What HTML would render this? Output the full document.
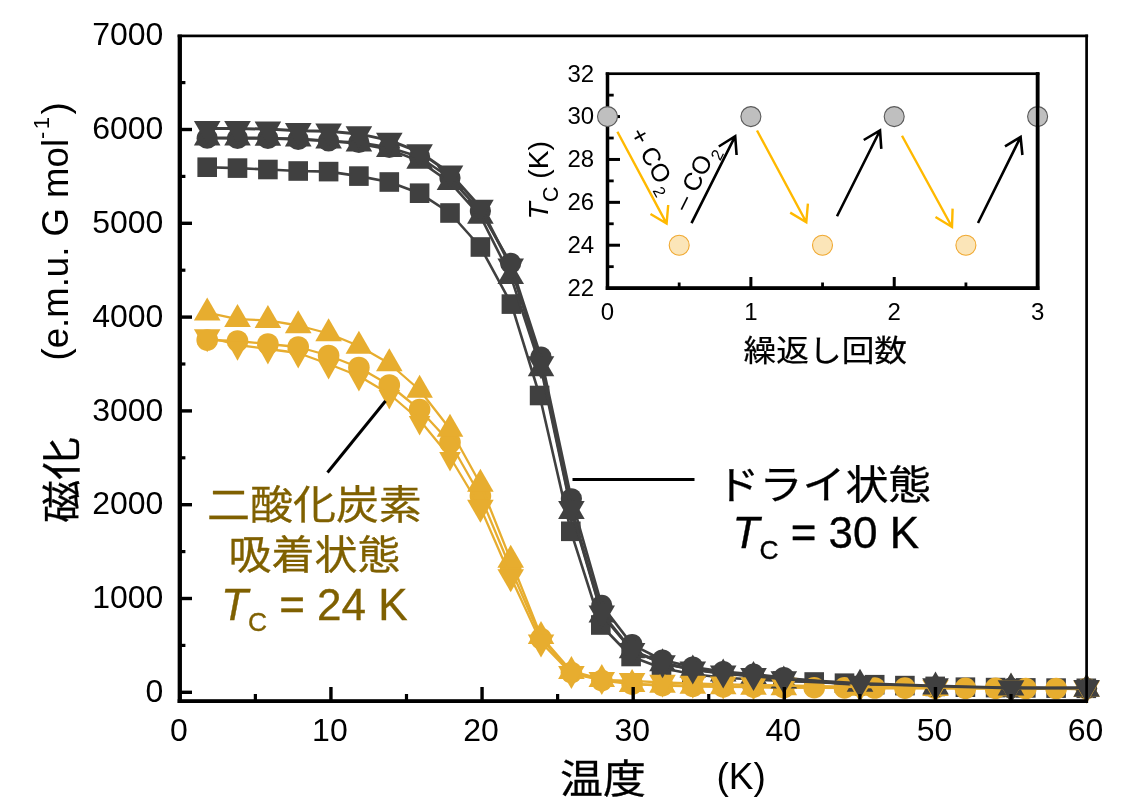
<!DOCTYPE html>
<html lang="ja"><head><meta charset="utf-8"><title>磁化 温度</title>
<style>
html,body{margin:0;padding:0;background:#fff;}
body{width:1134px;height:808px;overflow:hidden;}
svg{display:block;}
text{font-family:"Liberation Sans","Noto Sans CJK JP",sans-serif;fill:#000;}
.tk{font-size:32px;}
.itk{font-size:24px;}
.co{font-size:25px;}
.itl{font-size:28.3px;}
.ixl{font-size:32.7px;stroke:#000;stroke-width:0.25px;}
.cj{font-size:43px;stroke-width:0.3px;}
.an{font-size:44px;stroke-width:0.35px;}
.ax{font-size:37px;}
g[fill] text{fill:inherit;}
</style></head>
<body>
<svg width="1134" height="808" viewBox="0 0 1134 808">
<rect width="1134" height="808" fill="#fff"/>
<g id="s1-dark-square"><polyline points="207.2,167.2 237.5,168.1 267.9,169.5 298.2,171.0 328.6,171.6 358.9,176.1 389.3,182.0 419.6,193.2 450.0,213.0 480.4,247.0 511.4,304.1 539.6,395.5 570.8,531.2 600.8,625.0 631.1,656.5 661.5,668.0 691.8,674.0 722.2,677.5 752.5,679.5 782.8,681.0 814.2,682.0 844.5,683.2 874.7,684.7 904.9,685.6 935.1,686.4 965.4,687.2 995.6,687.6 1025.8,687.9 1056.1,688.1 1086.3,688.3" fill="none" stroke="#404040" stroke-width="2.6" stroke-linejoin="round"/><rect x="197.4" y="157.4" width="19.6" height="19.6" fill="#404040"/><rect x="227.7" y="158.3" width="19.6" height="19.6" fill="#404040"/><rect x="258.1" y="159.7" width="19.6" height="19.6" fill="#404040"/><rect x="288.4" y="161.2" width="19.6" height="19.6" fill="#404040"/><rect x="318.8" y="161.8" width="19.6" height="19.6" fill="#404040"/><rect x="349.1" y="166.3" width="19.6" height="19.6" fill="#404040"/><rect x="379.5" y="172.2" width="19.6" height="19.6" fill="#404040"/><rect x="409.8" y="183.4" width="19.6" height="19.6" fill="#404040"/><rect x="440.2" y="203.2" width="19.6" height="19.6" fill="#404040"/><rect x="470.6" y="237.2" width="19.6" height="19.6" fill="#404040"/><rect x="501.6" y="294.3" width="19.6" height="19.6" fill="#404040"/><rect x="529.8" y="385.7" width="19.6" height="19.6" fill="#404040"/><rect x="561.0" y="521.5" width="19.6" height="19.6" fill="#404040"/><rect x="591.0" y="615.2" width="19.6" height="19.6" fill="#404040"/><rect x="621.3" y="646.7" width="19.6" height="19.6" fill="#404040"/><rect x="651.7" y="658.2" width="19.6" height="19.6" fill="#404040"/><rect x="682.0" y="664.2" width="19.6" height="19.6" fill="#404040"/><rect x="712.4" y="667.7" width="19.6" height="19.6" fill="#404040"/><rect x="742.7" y="669.7" width="19.6" height="19.6" fill="#404040"/><rect x="773.0" y="671.2" width="19.6" height="19.6" fill="#404040"/><rect x="804.4" y="672.2" width="19.6" height="19.6" fill="#404040"/><rect x="834.7" y="673.4" width="19.6" height="19.6" fill="#404040"/><rect x="864.9" y="674.9" width="19.6" height="19.6" fill="#404040"/><rect x="895.1" y="675.8" width="19.6" height="19.6" fill="#404040"/><rect x="925.4" y="676.6" width="19.6" height="19.6" fill="#404040"/><rect x="955.6" y="677.4" width="19.6" height="19.6" fill="#404040"/><rect x="985.8" y="677.8" width="19.6" height="19.6" fill="#404040"/><rect x="1016.0" y="678.1" width="19.6" height="19.6" fill="#404040"/><rect x="1046.3" y="678.3" width="19.6" height="19.6" fill="#404040"/><rect x="1076.5" y="678.5" width="19.6" height="19.6" fill="#404040"/></g>
<g id="s2-yellow-circle"><polyline points="207.2,340.0 237.5,341.0 267.9,344.0 298.2,347.0 328.6,355.5 358.9,367.5 389.3,385.0 419.6,409.5 450.0,442.5 480.4,496.0 510.7,568.5 541.0,638.5 571.4,672.5 601.8,680.5 632.1,684.0 662.5,685.5 692.8,686.3 723.2,686.8 753.5,687.2 783.8,687.5 814.2,687.7 844.5,687.9 874.7,688.0 904.9,688.1 935.1,688.2 965.4,688.3 995.6,688.4 1025.8,688.5 1056.1,688.5 1086.3,688.5" fill="none" stroke="#E7AD2F" stroke-width="2.3" stroke-linejoin="round"/><circle cx="207.2" cy="340.0" r="10.8" fill="#E7AD2F"/><circle cx="237.5" cy="341.0" r="10.8" fill="#E7AD2F"/><circle cx="267.9" cy="344.0" r="10.8" fill="#E7AD2F"/><circle cx="298.2" cy="347.0" r="10.8" fill="#E7AD2F"/><circle cx="328.6" cy="355.5" r="10.8" fill="#E7AD2F"/><circle cx="358.9" cy="367.5" r="10.8" fill="#E7AD2F"/><circle cx="389.3" cy="385.0" r="10.8" fill="#E7AD2F"/><circle cx="419.6" cy="409.5" r="10.8" fill="#E7AD2F"/><circle cx="450.0" cy="442.5" r="10.8" fill="#E7AD2F"/><circle cx="480.4" cy="496.0" r="10.8" fill="#E7AD2F"/><circle cx="510.7" cy="568.5" r="10.8" fill="#E7AD2F"/><circle cx="541.0" cy="638.5" r="10.8" fill="#E7AD2F"/><circle cx="571.4" cy="672.5" r="10.8" fill="#E7AD2F"/><circle cx="601.8" cy="680.5" r="10.8" fill="#E7AD2F"/><circle cx="632.1" cy="684.0" r="10.8" fill="#E7AD2F"/><circle cx="662.5" cy="685.5" r="10.8" fill="#E7AD2F"/><circle cx="692.8" cy="686.3" r="10.8" fill="#E7AD2F"/><circle cx="723.2" cy="686.8" r="10.8" fill="#E7AD2F"/><circle cx="753.5" cy="687.2" r="10.8" fill="#E7AD2F"/><circle cx="783.8" cy="687.5" r="10.8" fill="#E7AD2F"/><circle cx="814.2" cy="687.7" r="10.8" fill="#E7AD2F"/><circle cx="844.5" cy="687.9" r="10.8" fill="#E7AD2F"/><circle cx="874.7" cy="688.0" r="10.8" fill="#E7AD2F"/><circle cx="904.9" cy="688.1" r="10.8" fill="#E7AD2F"/><circle cx="935.1" cy="688.2" r="10.8" fill="#E7AD2F"/><circle cx="965.4" cy="688.3" r="10.8" fill="#E7AD2F"/><circle cx="995.6" cy="688.4" r="10.8" fill="#E7AD2F"/><circle cx="1025.8" cy="688.5" r="10.8" fill="#E7AD2F"/><circle cx="1056.1" cy="688.5" r="10.8" fill="#E7AD2F"/><circle cx="1086.3" cy="688.5" r="10.8" fill="#E7AD2F"/></g>
<g id="s3-dark-circle"><polyline points="207.2,138.2 237.5,138.4 267.9,138.5 298.2,139.4 328.6,141.0 358.9,142.5 389.3,147.4 419.6,157.0 450.0,178.0 480.4,211.0 510.7,263.3 541.0,357.0 571.4,498.8 601.8,605.4 632.1,644.6 662.5,660.0 692.8,667.0 723.2,671.5 753.5,674.2 783.8,677.5 860.0,686.0 935.5,687.0 1011.0,688.0 1086.6,688.5" fill="none" stroke="#404040" stroke-width="2.6" stroke-linejoin="round"/><circle cx="207.2" cy="138.2" r="10.6" fill="#404040"/><circle cx="237.5" cy="138.4" r="10.6" fill="#404040"/><circle cx="267.9" cy="138.5" r="10.6" fill="#404040"/><circle cx="298.2" cy="139.4" r="10.6" fill="#404040"/><circle cx="328.6" cy="141.0" r="10.6" fill="#404040"/><circle cx="358.9" cy="142.5" r="10.6" fill="#404040"/><circle cx="389.3" cy="147.4" r="10.6" fill="#404040"/><circle cx="419.6" cy="157.0" r="10.6" fill="#404040"/><circle cx="450.0" cy="178.0" r="10.6" fill="#404040"/><circle cx="480.4" cy="211.0" r="10.6" fill="#404040"/><circle cx="510.7" cy="263.3" r="10.6" fill="#404040"/><circle cx="541.0" cy="357.0" r="10.6" fill="#404040"/><circle cx="571.4" cy="498.8" r="10.6" fill="#404040"/><circle cx="601.8" cy="605.4" r="10.6" fill="#404040"/><circle cx="632.1" cy="644.6" r="10.6" fill="#404040"/><circle cx="662.5" cy="660.0" r="10.6" fill="#404040"/><circle cx="692.8" cy="667.0" r="10.6" fill="#404040"/><circle cx="723.2" cy="671.5" r="10.6" fill="#404040"/><circle cx="753.5" cy="674.2" r="10.6" fill="#404040"/><circle cx="783.8" cy="677.5" r="10.6" fill="#404040"/><circle cx="860.0" cy="686.0" r="10.6" fill="#404040"/><circle cx="935.5" cy="687.0" r="10.6" fill="#404040"/><circle cx="1011.0" cy="688.0" r="10.6" fill="#404040"/><circle cx="1086.6" cy="688.5" r="10.6" fill="#404040"/></g>
<g id="s4-yellow-up"><polyline points="207.2,312.7 237.5,319.2 267.9,320.4 298.2,325.5 328.6,333.5 358.9,346.0 389.3,363.5 419.6,390.0 450.0,429.0 480.4,484.0 510.7,560.0 541.0,636.2 571.4,671.2 601.8,679.2 632.1,684.2 662.5,685.0 692.8,686.0 723.2,686.5 753.5,687.0 783.8,687.5 860.0,688.0 935.5,688.3 1011.0,688.6 1086.6,689.0" fill="none" stroke="#E7AD2F" stroke-width="2.3" stroke-linejoin="round"/><polygon points="193.9,320.4 220.5,320.4 207.2,297.4" fill="#E7AD2F"/><polygon points="224.2,326.9 250.8,326.9 237.5,303.9" fill="#E7AD2F"/><polygon points="254.6,328.1 281.2,328.1 267.9,305.1" fill="#E7AD2F"/><polygon points="284.9,333.2 311.6,333.2 298.2,310.2" fill="#E7AD2F"/><polygon points="315.3,341.2 341.9,341.2 328.6,318.2" fill="#E7AD2F"/><polygon points="345.6,353.7 372.2,353.7 358.9,330.7" fill="#E7AD2F"/><polygon points="376.0,371.2 402.6,371.2 389.3,348.2" fill="#E7AD2F"/><polygon points="406.3,397.7 432.9,397.7 419.6,374.7" fill="#E7AD2F"/><polygon points="436.7,436.7 463.3,436.7 450.0,413.7" fill="#E7AD2F"/><polygon points="467.1,491.7 493.7,491.7 480.4,468.7" fill="#E7AD2F"/><polygon points="497.4,567.7 524.0,567.7 510.7,544.7" fill="#E7AD2F"/><polygon points="527.8,643.9 554.3,643.9 541.0,620.9" fill="#E7AD2F"/><polygon points="558.1,678.9 584.7,678.9 571.4,655.9" fill="#E7AD2F"/><polygon points="588.5,686.9 615.0,686.9 601.8,663.9" fill="#E7AD2F"/><polygon points="618.8,691.9 645.4,691.9 632.1,668.9" fill="#E7AD2F"/><polygon points="649.2,692.7 675.8,692.7 662.5,669.7" fill="#E7AD2F"/><polygon points="679.5,693.7 706.1,693.7 692.8,670.7" fill="#E7AD2F"/><polygon points="709.9,694.2 736.5,694.2 723.2,671.2" fill="#E7AD2F"/><polygon points="740.2,694.7 766.8,694.7 753.5,671.7" fill="#E7AD2F"/><polygon points="770.5,695.2 797.1,695.2 783.8,672.2" fill="#E7AD2F"/><polygon points="846.7,695.7 873.3,695.7 860.0,672.7" fill="#E7AD2F"/><polygon points="922.2,696.0 948.8,696.0 935.5,673.0" fill="#E7AD2F"/><polygon points="997.7,696.3 1024.3,696.3 1011.0,673.3" fill="#E7AD2F"/><polygon points="1073.3,696.7 1099.9,696.7 1086.6,673.7" fill="#E7AD2F"/></g>
<g id="s5-dark-up"><polyline points="207.2,137.7 237.5,137.7 267.9,138.0 298.2,138.9 328.6,140.9 358.9,143.7 389.3,149.4 419.6,161.2 450.0,182.4 480.4,216.2 510.7,276.2 541.0,368.6 571.4,511.2 601.8,614.9 632.1,650.5 662.5,663.5 692.8,669.8 723.2,673.7 753.5,676.3 783.8,680.8 860.0,684.1 935.5,686.7 1011.0,687.8 1086.6,689.0" fill="none" stroke="#404040" stroke-width="2.6" stroke-linejoin="round"/><polygon points="193.9,145.4 220.5,145.4 207.2,122.4" fill="#404040"/><polygon points="224.2,145.4 250.8,145.4 237.5,122.4" fill="#404040"/><polygon points="254.6,145.7 281.2,145.7 267.9,122.7" fill="#404040"/><polygon points="284.9,146.6 311.6,146.6 298.2,123.6" fill="#404040"/><polygon points="315.3,148.6 341.9,148.6 328.6,125.6" fill="#404040"/><polygon points="345.6,151.4 372.2,151.4 358.9,128.4" fill="#404040"/><polygon points="376.0,157.1 402.6,157.1 389.3,134.1" fill="#404040"/><polygon points="406.3,168.8 432.9,168.8 419.6,145.8" fill="#404040"/><polygon points="436.7,190.1 463.3,190.1 450.0,167.1" fill="#404040"/><polygon points="467.1,223.8 493.7,223.8 480.4,200.8" fill="#404040"/><polygon points="497.4,283.9 524.0,283.9 510.7,260.9" fill="#404040"/><polygon points="527.8,376.3 554.3,376.3 541.0,353.3" fill="#404040"/><polygon points="558.1,518.9 584.7,518.9 571.4,495.9" fill="#404040"/><polygon points="588.5,622.6 615.0,622.6 601.8,599.6" fill="#404040"/><polygon points="618.8,658.2 645.4,658.2 632.1,635.2" fill="#404040"/><polygon points="649.2,671.2 675.8,671.2 662.5,648.2" fill="#404040"/><polygon points="679.5,677.5 706.1,677.5 692.8,654.5" fill="#404040"/><polygon points="709.9,681.4 736.5,681.4 723.2,658.4" fill="#404040"/><polygon points="740.2,684.0 766.8,684.0 753.5,661.0" fill="#404040"/><polygon points="770.5,688.5 797.1,688.5 783.8,665.5" fill="#404040"/><polygon points="846.7,691.8 873.3,691.8 860.0,668.8" fill="#404040"/><polygon points="922.2,694.4 948.8,694.4 935.5,671.4" fill="#404040"/><polygon points="997.7,695.5 1024.3,695.5 1011.0,672.5" fill="#404040"/><polygon points="1073.3,696.7 1099.9,696.7 1086.6,673.7" fill="#404040"/></g>
<g id="s6-yellow-down"><polyline points="207.2,337.0 237.5,345.0 267.9,349.0 298.2,353.0 328.6,364.0 358.9,376.0 389.3,394.0 419.6,420.0 450.0,457.0 480.4,507.5 510.7,577.0 541.0,642.3 571.4,673.8 601.8,679.8 632.1,680.8 662.5,682.5 692.8,683.5 723.2,684.3 753.5,685.0 783.8,685.5 860.0,687.0 935.5,687.5 1011.0,688.0 1086.6,688.5" fill="none" stroke="#E7AD2F" stroke-width="2.3" stroke-linejoin="round"/><polygon points="193.9,329.3 220.5,329.3 207.2,352.3" fill="#E7AD2F"/><polygon points="226.7,341.3 248.3,341.3 237.5,360.7" fill="#E7AD2F"/><polygon points="257.1,345.1 278.7,345.1 267.9,364.5" fill="#E7AD2F"/><polygon points="287.4,349.1 309.1,349.1 298.2,368.5" fill="#E7AD2F"/><polygon points="317.8,360.1 339.4,360.1 328.6,379.5" fill="#E7AD2F"/><polygon points="348.1,372.1 369.8,372.1 358.9,391.5" fill="#E7AD2F"/><polygon points="378.5,390.1 400.1,390.1 389.3,409.5" fill="#E7AD2F"/><polygon points="408.8,416.1 430.4,416.1 419.6,435.5" fill="#E7AD2F"/><polygon points="439.2,452.1 460.8,452.1 450.0,471.5" fill="#E7AD2F"/><polygon points="467.1,499.8 493.7,499.8 480.4,522.8" fill="#E7AD2F"/><polygon points="497.4,569.3 524.0,569.3 510.7,592.3" fill="#E7AD2F"/><polygon points="527.8,634.6 554.3,634.6 541.0,657.6" fill="#E7AD2F"/><polygon points="558.1,666.1 584.7,666.1 571.4,689.1" fill="#E7AD2F"/><polygon points="588.5,672.1 615.0,672.1 601.8,695.1" fill="#E7AD2F"/><polygon points="618.8,673.1 645.4,673.1 632.1,696.1" fill="#E7AD2F"/><polygon points="649.2,674.8 675.8,674.8 662.5,697.8" fill="#E7AD2F"/><polygon points="679.5,675.8 706.1,675.8 692.8,698.8" fill="#E7AD2F"/><polygon points="709.9,676.6 736.5,676.6 723.2,699.6" fill="#E7AD2F"/><polygon points="740.2,677.3 766.8,677.3 753.5,700.3" fill="#E7AD2F"/><polygon points="770.5,677.8 797.1,677.8 783.8,700.8" fill="#E7AD2F"/><polygon points="846.7,679.3 873.3,679.3 860.0,702.3" fill="#E7AD2F"/><polygon points="922.2,679.8 948.8,679.8 935.5,702.8" fill="#E7AD2F"/><polygon points="997.7,680.3 1024.3,680.3 1011.0,703.3" fill="#E7AD2F"/><polygon points="1073.3,680.8 1099.9,680.8 1086.6,703.8" fill="#E7AD2F"/></g>
<g id="s7-dark-down"><polyline points="207.2,128.6 237.5,128.6 267.9,129.1 298.2,130.7 328.6,131.2 358.9,133.9 389.3,140.4 419.6,152.0 450.0,173.2 480.4,207.3 510.7,266.1 541.0,363.9 571.4,508.6 601.8,613.2 632.1,650.7 662.5,663.0 692.8,669.3 723.2,673.2 753.5,675.8 783.8,679.0 860.0,683.4 935.5,686.0 1011.0,688.0 1086.6,687.8" fill="none" stroke="#404040" stroke-width="3.0" stroke-linejoin="round"/><polygon points="193.9,120.9 220.5,120.9 207.2,143.9" fill="#404040"/><polygon points="224.2,120.9 250.8,120.9 237.5,143.9" fill="#404040"/><polygon points="254.6,121.4 281.2,121.4 267.9,144.4" fill="#404040"/><polygon points="284.9,123.0 311.6,123.0 298.2,146.0" fill="#404040"/><polygon points="315.3,123.5 341.9,123.5 328.6,146.5" fill="#404040"/><polygon points="345.6,126.2 372.2,126.2 358.9,149.2" fill="#404040"/><polygon points="376.0,132.7 402.6,132.7 389.3,155.7" fill="#404040"/><polygon points="406.3,144.3 432.9,144.3 419.6,167.3" fill="#404040"/><polygon points="436.7,165.5 463.3,165.5 450.0,188.5" fill="#404040"/><polygon points="467.1,199.7 493.7,199.7 480.4,222.7" fill="#404040"/><polygon points="497.4,258.4 524.0,258.4 510.7,281.4" fill="#404040"/><polygon points="527.8,356.2 554.3,356.2 541.0,379.2" fill="#404040"/><polygon points="558.1,500.9 584.7,500.9 571.4,523.9" fill="#404040"/><polygon points="588.5,605.5 615.0,605.5 601.8,628.5" fill="#404040"/><polygon points="618.8,643.0 645.4,643.0 632.1,666.0" fill="#404040"/><polygon points="649.2,655.3 675.8,655.3 662.5,678.3" fill="#404040"/><polygon points="679.5,661.6 706.1,661.6 692.8,684.6" fill="#404040"/><polygon points="709.9,665.5 736.5,665.5 723.2,688.5" fill="#404040"/><polygon points="740.2,668.1 766.8,668.1 753.5,691.1" fill="#404040"/><polygon points="770.5,671.3 797.1,671.3 783.8,694.3" fill="#404040"/><polygon points="846.7,675.7 873.3,675.7 860.0,698.7" fill="#404040"/><polygon points="922.2,678.3 948.8,678.3 935.5,701.3" fill="#404040"/><polygon points="997.7,680.3 1024.3,680.3 1011.0,703.3" fill="#404040"/><polygon points="1073.3,680.1 1099.9,680.1 1086.6,703.1" fill="#404040"/></g>
<rect x="177.65" y="34.55" width="4.3" height="668.45" fill="#000"/>
<rect x="177.65" y="699.2" width="910.4999999999999" height="3.8" fill="#000"/>
<rect x="177.65" y="34.55" width="910.4999999999999" height="2.7" fill="#000"/>
<rect x="1085.25" y="34.55" width="2.7" height="668.45" fill="#000"/>
<rect x="179.8" y="690.60" width="12.2" height="3.4" fill="#000"/>
<rect x="179.8" y="643.80" width="5.6" height="3.2" fill="#000"/>
<rect x="179.8" y="596.80" width="12.2" height="3.4" fill="#000"/>
<rect x="179.8" y="550.00" width="5.6" height="3.2" fill="#000"/>
<rect x="179.8" y="503.00" width="12.2" height="3.4" fill="#000"/>
<rect x="179.8" y="456.20" width="5.6" height="3.2" fill="#000"/>
<rect x="179.8" y="409.20" width="12.2" height="3.4" fill="#000"/>
<rect x="179.8" y="362.40" width="5.6" height="3.2" fill="#000"/>
<rect x="179.8" y="315.40" width="12.2" height="3.4" fill="#000"/>
<rect x="179.8" y="268.60" width="5.6" height="3.2" fill="#000"/>
<rect x="179.8" y="221.60" width="12.2" height="3.4" fill="#000"/>
<rect x="179.8" y="174.80" width="5.6" height="3.2" fill="#000"/>
<rect x="179.8" y="127.80" width="12.2" height="3.4" fill="#000"/>
<rect x="179.8" y="81.00" width="5.6" height="3.2" fill="#000"/>
<rect x="253.77" y="694" width="3.2" height="7" fill="#000"/>
<rect x="329.23" y="687" width="3.4" height="14" fill="#000"/>
<rect x="404.89" y="694" width="3.2" height="7" fill="#000"/>
<rect x="480.36" y="687" width="3.4" height="14" fill="#000"/>
<rect x="556.02" y="694" width="3.2" height="7" fill="#000"/>
<rect x="631.49" y="687" width="3.4" height="14" fill="#000"/>
<rect x="707.15" y="694" width="3.2" height="7" fill="#000"/>
<rect x="782.62" y="687" width="3.4" height="14" fill="#000"/>
<rect x="858.28" y="694" width="3.2" height="7" fill="#000"/>
<rect x="933.75" y="687" width="3.4" height="14" fill="#000"/>
<rect x="1009.41" y="694" width="3.2" height="7" fill="#000"/>
<text x="163.4" y="702.0" text-anchor="end" class="tk">0</text>
<text x="163.4" y="608.2" text-anchor="end" class="tk">1000</text>
<text x="163.4" y="514.4" text-anchor="end" class="tk">2000</text>
<text x="163.4" y="420.6" text-anchor="end" class="tk">3000</text>
<text x="163.4" y="326.8" text-anchor="end" class="tk">4000</text>
<text x="163.4" y="233.0" text-anchor="end" class="tk">5000</text>
<text x="163.4" y="139.2" text-anchor="end" class="tk">6000</text>
<text x="163.4" y="45.4" text-anchor="end" class="tk">7000</text>
<text x="178.8" y="741" text-anchor="middle" class="tk">0</text>
<text x="329.9" y="741" text-anchor="middle" class="tk">10</text>
<text x="481.1" y="741" text-anchor="middle" class="tk">20</text>
<text x="632.2" y="741" text-anchor="middle" class="tk">30</text>
<text x="783.3" y="741" text-anchor="middle" class="tk">40</text>
<text x="934.5" y="741" text-anchor="middle" class="tk">50</text>
<text x="1085.6" y="741" text-anchor="middle" class="tk">60</text>
<rect x="605.75" y="72.35000000000001" width="3.5" height="217.65000000000003" fill="#000"/>
<rect x="1035.85" y="72.35000000000001" width="3.5" height="217.65000000000003" fill="#000"/>
<rect x="605.75" y="72.35000000000001" width="433.5999999999999" height="2.7" fill="#000"/>
<rect x="605.75" y="286.20000000000005" width="433.5999999999999" height="3.8" fill="#000"/>
<rect x="607.5" y="265.26" width="6.2" height="2.8" fill="#000"/>
<rect x="607.5" y="243.72" width="12.5" height="3" fill="#000"/>
<rect x="607.5" y="222.38" width="6.2" height="2.8" fill="#000"/>
<rect x="607.5" y="200.84" width="12.5" height="3" fill="#000"/>
<rect x="607.5" y="179.50" width="6.2" height="2.8" fill="#000"/>
<rect x="607.5" y="157.96" width="12.5" height="3" fill="#000"/>
<rect x="607.5" y="136.62" width="6.2" height="2.8" fill="#000"/>
<rect x="607.5" y="115.08" width="12.5" height="3" fill="#000"/>
<rect x="607.5" y="93.74" width="6.2" height="2.8" fill="#000"/>
<rect x="677.78" y="282.5" width="2.8" height="5.6" fill="#000"/>
<rect x="749.37" y="277" width="3" height="11" fill="#000"/>
<rect x="821.15" y="282.5" width="2.8" height="5.6" fill="#000"/>
<rect x="892.73" y="277" width="3" height="11" fill="#000"/>
<rect x="964.52" y="282.5" width="2.8" height="5.6" fill="#000"/>
<text x="594.2" y="295.9" text-anchor="end" class="itk">22</text>
<text x="594.2" y="253.0" text-anchor="end" class="itk">24</text>
<text x="594.2" y="210.1" text-anchor="end" class="itk">26</text>
<text x="594.2" y="167.3" text-anchor="end" class="itk">28</text>
<text x="594.2" y="124.4" text-anchor="end" class="itk">30</text>
<text x="594.2" y="81.5" text-anchor="end" class="itk">32</text>
<text x="607.5" y="320.4" text-anchor="middle" class="itk">0</text>
<text x="750.9" y="320.4" text-anchor="middle" class="itk">1</text>
<text x="894.2" y="320.4" text-anchor="middle" class="itk">2</text>
<text x="1037.6" y="320.4" text-anchor="middle" class="itk">3</text>
<path d="M617.4,131.7 L666.6,223.6 M650.5,214 L666.6,223.6 L668.2,205" fill="none" stroke="#FFB900" stroke-width="2.4" stroke-linejoin="miter" stroke-miterlimit="10"/>
<path d="M757,130.5 L806.3,222.2 M790.2,212.6 L806.3,222.2 L807.9,203.6" fill="none" stroke="#FFB900" stroke-width="2.4" stroke-linejoin="miter" stroke-miterlimit="10"/>
<path d="M902,135.75 L952,227 M935.5,217 L952,227 L952.6,208.6" fill="none" stroke="#FFB900" stroke-width="2.4" stroke-linejoin="miter" stroke-miterlimit="10"/>
<path d="M691.5,223.2 L735.2,136.2 M718.8,146.5 L735.2,136.2 L736.6,155" fill="none" stroke="#000" stroke-width="2.6" stroke-linejoin="miter" stroke-miterlimit="10"/>
<path d="M837,216.25 L880,130.5 M863.75,140 L880,130.5 L881.3,148.9" fill="none" stroke="#000" stroke-width="2.6" stroke-linejoin="miter" stroke-miterlimit="10"/>
<path d="M978,223 L1020.6,137 M1005,146.3 L1020.6,137 L1022.4,155" fill="none" stroke="#000" stroke-width="2.6" stroke-linejoin="miter" stroke-miterlimit="10"/>
<circle cx="607.5" cy="116.58" r="10" fill="#BFBFBF" stroke="#5a5a5a" stroke-width="1.1"/>
<circle cx="750.9" cy="116.58" r="10" fill="#BFBFBF" stroke="#5a5a5a" stroke-width="1.1"/>
<circle cx="894.2" cy="116.58" r="10" fill="#BFBFBF" stroke="#5a5a5a" stroke-width="1.1"/>
<circle cx="1037.6" cy="116.58" r="10" fill="#BFBFBF" stroke="#5a5a5a" stroke-width="1.1"/>
<circle cx="679.2" cy="245.22" r="10" fill="#FBE5B8" stroke="#F0A830" stroke-width="1.1"/>
<circle cx="822.5" cy="245.22" r="10" fill="#FBE5B8" stroke="#F0A830" stroke-width="1.1"/>
<circle cx="965.9" cy="245.22" r="10" fill="#FBE5B8" stroke="#F0A830" stroke-width="1.1"/>
<rect x="1035.85" y="72.35000000000001" width="3.5" height="217.65000000000003" fill="#000"/>
<text transform="translate(629.2,133.5) rotate(61.5)" class="co">+ CO<tspan dx="2" dy="6.8" font-size="16.5">2</tspan></text>
<text transform="translate(687.1,212.4) rotate(-63.5)" class="co">– CO<tspan dx="2" dy="6.8" font-size="16.5">2</tspan></text>
<text transform="translate(547.6,219.4) rotate(-90)" class="itl"><tspan font-style="italic">T</tspan><tspan dy="10" font-size="21.5">C</tspan><tspan dy="-10"> (K)</tspan></text>
<text transform="translate(825.3,361.3) scale(1,0.92)" text-anchor="middle" class="ixl">繰返し回数</text>

<line x1="572.5" y1="479.5" x2="694.5" y2="479.5" stroke="#000" stroke-width="3"/>
<line x1="385.5" y1="401" x2="327.5" y2="472.5" stroke="#000" stroke-width="3"/>
<text transform="translate(823.9,498.7) scale(1,0.92)" text-anchor="middle" class="cj" stroke="#000">ドライ状態</text>
<text x="732.5" y="548.3" class="an" stroke="#000"><tspan font-style="italic">T</tspan><tspan dy="10.7" font-size="26.4">C</tspan><tspan dy="-10.7"> = 30 K</tspan></text>
<g fill="#7F6000" stroke="#7F6000">
<text transform="translate(314.4,519) scale(1,0.92)" text-anchor="middle" class="cj">二酸化炭素</text>
<text transform="translate(314.4,569.3) scale(1,0.92)" text-anchor="middle" class="cj">吸着状態</text>
<text x="221" y="620.2" class="an" stroke="#7F6000"><tspan font-style="italic">T</tspan><tspan dy="10.7" font-size="26.4">C</tspan><tspan dy="-10.7"> = 24 K</tspan></text>
</g>
<text transform="translate(603,792.6) scale(1,0.92)" text-anchor="middle" class="cj" stroke="#000">温度</text>
<text x="716.5" y="789.4" class="ax">(K)</text>
<text transform="translate(75.7,480) rotate(-90) scale(1,0.92)" text-anchor="middle" class="cj" stroke="#000">磁化</text>
<text transform="translate(67.7,360.5) rotate(-90)" class="ax" style="font-size:36.6px">(e.m.u. G mol<tspan dy="-18.5" font-size="22" letter-spacing="2.5">-1</tspan><tspan dy="18.5">)</tspan></text>

</svg>
</body></html>
